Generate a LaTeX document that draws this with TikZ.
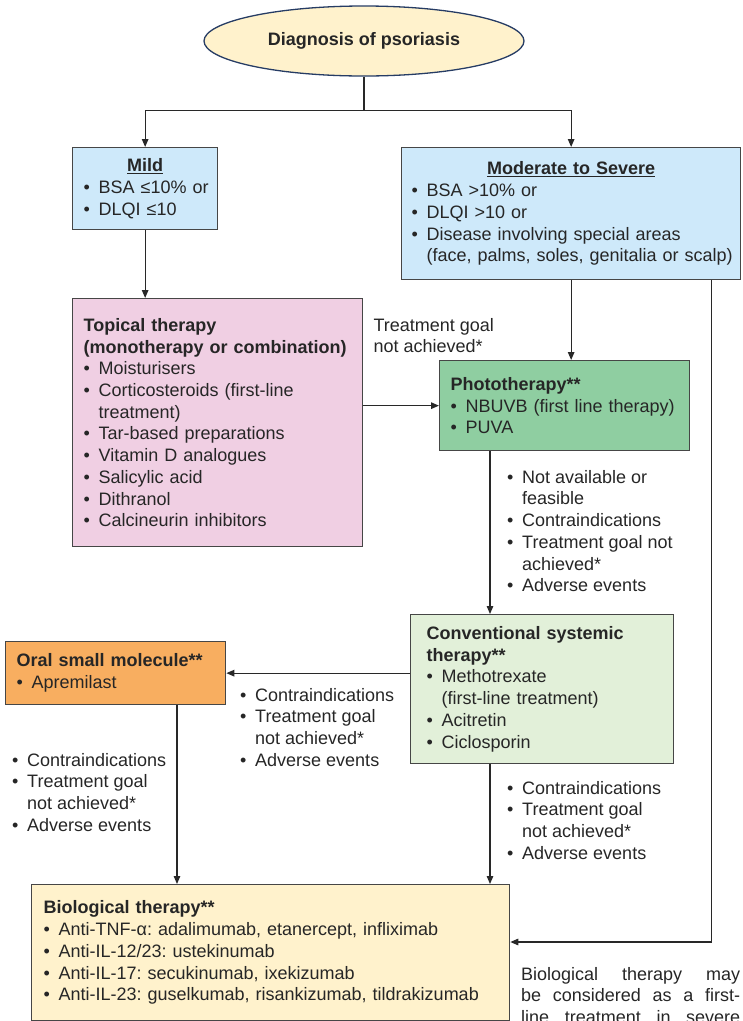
\documentclass[tikz,border=0pt]{standalone}
\usepackage{fontspec}
\setmainfont{Liberation Sans}
\usepackage{xcolor}
\usetikzlibrary{arrows.meta,calc,positioning,shapes.geometric}

\definecolor{diagfill}{RGB}{255,242,204}
\definecolor{diagline}{RGB}{38,60,100}
\definecolor{sevfill}{RGB}{206,233,250}
\definecolor{topfill}{RGB}{240,207,227}
\definecolor{photofill}{RGB}{143,206,161}
\definecolor{convfill}{RGB}{226,240,217}
\definecolor{oralfill}{RGB}{248,174,96}
\definecolor{biofill}{RGB}{255,242,204}
\definecolor{ink}{RGB}{38,38,38}
\definecolor{boxline}{RGB}{70,70,70}
\definecolor{wire}{RGB}{40,40,40}

\newcommand{\itm}[1]{\mbox{\makebox[15pt][l]{\textbullet}#1}}
\newcommand{\cnt}[1]{\mbox{\hspace*{15pt}#1}}
\newcommand{\heading}[2]{\makebox[#1][c]{\underline{\textbf{#2}}}}

\begin{document}
\begin{tikzpicture}[
  x=1pt, y=-1pt,
  cbox/.style = {draw=boxline, fill=#1, line width=1.3pt, anchor=north west,
                 align=left, inner xsep=11pt, inner ysep=0pt, text=ink,
                 font=\fontsize{18}{21.7}\selectfont\frenchspacing},
  lbl/.style  = {anchor=north west, align=left, inner sep=0pt, text=ink,
                 font=\fontsize{18}{21.7}\selectfont\frenchspacing},
  arr/.style  = {-{Triangle[length=8pt,width=6.5pt]}, line width=1.3pt, draw=wire},
  ln/.style   = {line width=1.3pt, draw=wire},
]
\clip (0,0) rectangle (743,1021);

\node[ellipse, draw=diagline, fill=diagfill, line width=1.3pt,
      minimum width=320pt, minimum height=70pt, text=ink,
      font=\fontsize{18}{22}\selectfont\bfseries] (diag) at (364,41)
    {Diagnosis of psoriasis};

\node[cbox=sevfill, text width=123pt, minimum height=82pt] (mild) at (72,147)
    {\heading{123pt}{Mild}\\
     \itm{BSA ≤10\% or}\\
     \itm{DLQI ≤10}};
\node[cbox=sevfill, text width=319pt, inner xsep=10pt, minimum height=132pt] (sev) at (401,147)
    {\heading{319pt}{Moderate to Severe}\\
     \itm{BSA >10\% or}\\
     \itm{DLQI >10 or}\\
     \itm{Disease involving special areas}\\
     \cnt{(face, palms, soles, genitalia or scalp)}};

\node[cbox=topfill, text width=268pt, minimum height=248pt] (top) at (72,298)
    {\textbf{Topical therapy}\\
     \mbox{\textbf{(monotherapy or combination)}}\\
     \itm{Moisturisers}\\
     \itm{Corticosteroids (first-line}\\
     \cnt{treatment)}\\
     \itm{Tar-based preparations}\\
     \itm{Vitamin D analogues}\\
     \itm{Salicylic acid}\\
     \itm{Dithranol}\\
     \itm{Calcineurin inhibitors}};
\node[lbl, below right=20pt and 10pt of top.north east] (tgoal)
    {Treatment goal\\ not achieved*};

\node[cbox=photofill, text width=228pt, minimum height=90pt] (photo) at (439,360)
    {\textbf{Phototherapy**}\\
     \itm{NBUVB (first line therapy)}\\
     \itm{PUVA}};
\node[lbl] (nolbl) at (507,470)
    {\itm{Not available or}\\
     \cnt{feasible}\\
     \itm{Contraindications}\\
     \itm{Treatment goal not}\\
     \cnt{achieved*}\\
     \itm{Adverse events}};

\node[cbox=convfill, inner xsep=16pt, text width=231pt, minimum height=149pt] (conv) at (410,614)
    {\textbf{Conventional systemic}\\
     \textbf{therapy**}\\
     \itm{Methotrexate}\\
     \cnt{(first-line treatment)}\\
     \itm{Acitretin}\\
     \itm{Ciclosporin}};
\node[cbox=oralfill, text width=198pt, minimum height=63pt] (oral) at (5,641)
    {\textbf{Oral small molecule**}\\
     \itm{Apremilast}};
\node[lbl] (midlbl) at (240,688)
    {\itm{Contraindications}\\
     \itm{Treatment goal}\\
     \cnt{not achieved*}\\
     \itm{Adverse events}};
\node[lbl] (leftlbl) at (12,753)
    {\itm{Contraindications}\\
     \itm{Treatment goal}\\
     \cnt{not achieved*}\\
     \itm{Adverse events}};
\node[lbl] (convlbl) at (507,781)
    {\itm{Contraindications}\\
     \itm{Treatment goal}\\
     \cnt{not achieved*}\\
     \itm{Adverse events}};

\node[cbox=biofill, inner xsep=12pt, text width=454pt, minimum height=136pt] (bio) at (31,884)
    {\textbf{Biological therapy**}\\
     \itm{Anti-TNF-α: adalimumab, etanercept, infliximab}\\
     \itm{Anti-IL-12/23: ustekinumab}\\
     \itm{Anti-IL-17: secukinumab, ixekizumab}\\
     \itm{Anti-IL-23: guselkumab, risankizumab, tildrakizumab}};
\node[lbl, align=justify, text width=219pt] (note) at (521,967)
    {Biological therapy may\linebreak
     be considered as a first-\linebreak
     \makebox[219pt][s]{line treatment in severe}};

\coordinate (split) at ($(diag.south)+(0,34)$);
\draw[ln] (diag.south) -- (split);
\draw[arr] (split) -| (mild.north);
\draw[arr] (split) -| (sev.north);
\draw[arr] (mild.south) -- (mild.south |- top.north);
\draw[arr] (top.east |- photo.west) -- (photo.west);
\draw[arr] (sev.south) -- (sev.south |- photo.north);
\draw[arr] ($(photo.south west)+(51,0)$) -- ($(conv.north west)+(80,0)$);
\draw[arr] (conv.west |- oral.east) -- (oral.east);
\draw[arr] ($(oral.south west)+(172,0)$) -- ($(bio.north west)+(146,0)$);
\draw[arr] ($(conv.south west)+(80,0)$) -- ($(bio.north west)+(459,0)$);
\draw[arr] ($(sev.south east)+(-30,0)$) |- ($(bio.north east)+(0,58)$);
\end{tikzpicture}
\end{document}
